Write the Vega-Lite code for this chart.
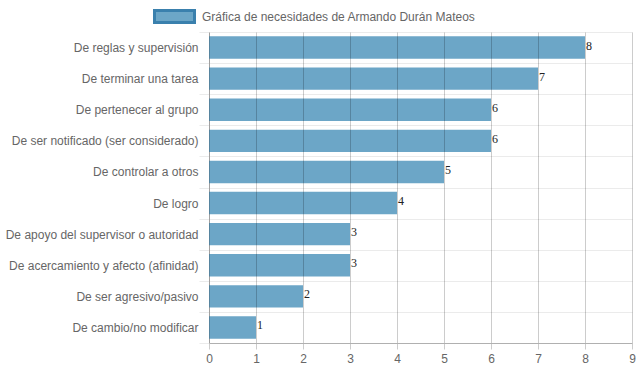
{
  "$schema": "https://vega.github.io/schema/vega-lite/v6.json",
  "width": 423,
  "height": 311,
  "autosize": "none",
  "padding": {"left": 209, "top": 32, "right": 7, "bottom": 29},
  "background": "white",
  "config": {
    "view": {"stroke": null},
    "font": "Liberation Sans"
  },
  "data": {
    "values": [
      {"necesidad": "De reglas y supervisión", "valor": 8, "serie": "Gráfica de necesidades de Armando Durán Mateos"},
      {"necesidad": "De terminar una tarea", "valor": 7, "serie": "Gráfica de necesidades de Armando Durán Mateos"},
      {"necesidad": "De pertenecer al grupo", "valor": 6, "serie": "Gráfica de necesidades de Armando Durán Mateos"},
      {"necesidad": "De ser notificado (ser considerado)", "valor": 6, "serie": "Gráfica de necesidades de Armando Durán Mateos"},
      {"necesidad": "De controlar a otros", "valor": 5, "serie": "Gráfica de necesidades de Armando Durán Mateos"},
      {"necesidad": "De logro", "valor": 4, "serie": "Gráfica de necesidades de Armando Durán Mateos"},
      {"necesidad": "De apoyo del supervisor o autoridad", "valor": 3, "serie": "Gráfica de necesidades de Armando Durán Mateos"},
      {"necesidad": "De acercamiento y afecto (afinidad)", "valor": 3, "serie": "Gráfica de necesidades de Armando Durán Mateos"},
      {"necesidad": "De ser agresivo/pasivo", "valor": 2, "serie": "Gráfica de necesidades de Armando Durán Mateos"},
      {"necesidad": "De cambio/no modificar", "valor": 1, "serie": "Gráfica de necesidades de Armando Durán Mateos"}
    ]
  },
  "encoding": {
    "y": {
      "field": "necesidad",
      "type": "nominal",
      "sort": null,
      "scale": {"paddingInner": 0, "paddingOuter": 0},
      "axis": {
        "title": null,
        "bandPosition": 0,
        "grid": true,
        "gridColor": "#ebebeb",
        "gridWidth": 1,
        "ticks": true,
        "tickColor": "#ebebeb",
        "tickSize": 10,
        "tickBand": "extent",
        "domainColor": "#c8c8c8",
        "labelColor": "#666666",
        "labelFontSize": 12,
        "labelFont": "Liberation Sans",
        "labelPadding": 1,
        "labelLimit": 250
      }
    },
    "x": {
      "field": "valor",
      "type": "quantitative",
      "scale": {"domain": [0, 9], "nice": false},
      "axis": {
        "title": null,
        "zindex": 1,
        "values": [0, 1, 2, 3, 4, 5, 6, 7, 8, 9],
        "grid": true,
        "gridColor": "#000000",
        "gridOpacity": 0.2,
        "gridWidth": 1,
        "domainColor": "#b0b0b0",
        "tickColor": "#cccccc",
        "tickSize": 6,
        "labelColor": "#666666",
        "labelFontSize": 12,
        "labelFont": "Liberation Sans",
        "labelPadding": 4,
        "labelFlush": false
      }
    }
  },
  "layer": [
    {
      "mark": {"type": "bar", "height": {"band": 0.72}, "strokeWidth": 0},
      "encoding": {
        "fill": {
          "field": "serie",
          "type": "nominal",
          "scale": {"range": ["#6ca6c7"]},
          "legend": {
            "title": null,
            "orient": "none",
            "legendX": -56,
            "legendY": -37,
            "padding": 0,
            "symbolType": "M-1,-0.3H1V0.3H-1Z",
            "symbolSize": 1600,
            "symbolStrokeWidth": 3,
            "symbolOpacity": 1,
            "labelOffset": 6,
            "labelFontSize": 12,
            "labelFont": "Liberation Sans",
            "labelColor": "#666666",
            "labelLimit": 400
          }
        },
        "stroke": {
          "field": "serie",
          "type": "nominal",
          "scale": {"range": ["#3a80ad"]},
          "legend": {
            "title": null,
            "orient": "none",
            "legendX": -56,
            "legendY": -37,
            "padding": 0,
            "symbolType": "M-1,-0.3H1V0.3H-1Z",
            "symbolSize": 1600,
            "symbolStrokeWidth": 3,
            "symbolOpacity": 1,
            "labelOffset": 6,
            "labelFontSize": 12,
            "labelFont": "Liberation Sans",
            "labelColor": "#666666",
            "labelLimit": 400
          }
        }
      }
    },
    {
      "mark": {"type": "text", "align": "left", "baseline": "middle", "dx": 1, "dy": -2, "font": "Liberation Serif", "fontSize": 12, "color": "#222222"},
      "encoding": {
        "text": {"field": "valor", "type": "quantitative"}
      }
    }
  ]
}
